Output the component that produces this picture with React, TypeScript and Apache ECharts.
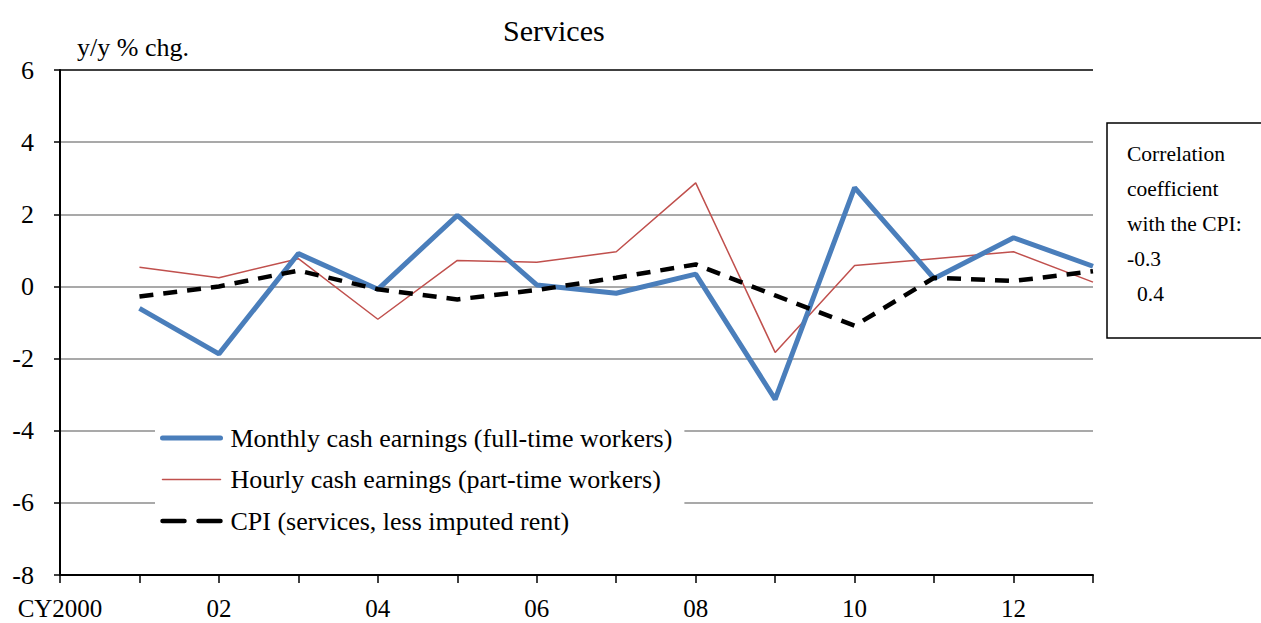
import React, { useEffect, useRef } from "react";
import * as echarts from "echarts";

const years = [2001, 2002, 2003, 2004, 2005, 2006, 2007, 2008, 2009, 2010, 2011, 2012, 2013];
const monthly = [-0.61, -1.87, 0.91, -0.08, 1.97, 0.04, -0.19, 0.34, -3.13, 2.74, 0.22, 1.35, 0.56];
const hourly = [0.53, 0.24, 0.77, -0.91, 0.72, 0.67, 0.96, 2.87, -1.83, 0.58, 0.77, 0.96, 0.12];
const cpi = [-0.28, 0.0, 0.44, -0.08, -0.36, -0.1, 0.24, 0.61, -0.25, -1.09, 0.24, 0.15, 0.42];
const seriesNames = [
  "Monthly cash earnings (full-time workers)",
  "Hourly cash earnings (part-time workers)",
  "CPI (services, less imputed rent)",
];
const corrLines = ["Correlation", "coefficient", "with the CPI:", "-0.3", "0.4"];
const corrIndent = [0, 0, 0, 0, 10];

const FONT = "'Liberation Serif', 'Times New Roman', serif";

export default function App() {
  const ref = useRef<HTMLDivElement>(null);
  useEffect(() => {
    if (!ref.current) return;
    const chart = echarts.init(ref.current, null, { renderer: "svg" });
    const pair = (arr: number[]) => years.map((y, i) => [y, arr[i]]);
    const gridColors = ["#000", "#8c8c8c", "#8c8c8c", "#8c8c8c", "#8c8c8c", "#8c8c8c", "#8c8c8c", "#000"];
    const styles = [
      { color: "#4a7ebb", width: 5, type: "solid" as any },
      { color: "#c0504d", width: 1.5, type: "solid" as any },
      { color: "#000", width: 4.5, type: [14, 10] as any },
    ];
    const legendTypes: any[] = ["solid", "solid", [22, 14]];
    chart.setOption({
      animation: false,
      backgroundColor: "#fff",
      textStyle: { fontFamily: FONT, color: "#000" },
      title: {
        text: "Services",
        left: 498,
        top: 10,
        textStyle: { fontFamily: FONT, fontSize: 30, fontWeight: "normal", color: "#000" },
      },
      grid: {
        left: 60,
        right: 168,
        top: 70,
        bottom: 48,
        containLabel: false,
        outerBoundsMode: "none",
      },
      xAxis: {
        type: "value",
        min: 2000,
        max: 2013,
        interval: 1,
        axisLine: { show: true, onZero: false, lineStyle: { color: "#000", width: 2 } },
        axisTick: { show: true, length: 8, lineStyle: { color: "#000", width: 1.5 } },
        splitLine: { show: false },
        axisLabel: {
          margin: 21,
          fontSize: 25,
          fontFamily: FONT,
          color: "#000",
          showMinLabel: true,
          showMaxLabel: true,
          formatter: (v: number) => {
            if (v === 2000) return "CY2000";
            if (v % 2 === 0) return String(v).slice(2);
            return "";
          },
        },
      },
      yAxis: {
        type: "value",
        min: -8,
        max: 6,
        interval: 2,
        axisLine: { show: true, lineStyle: { color: "#000", width: 2 } },
        axisTick: { show: true, length: 6, lineStyle: { color: "#000", width: 1.5 } },
        axisLabel: { margin: 26, fontSize: 26, fontFamily: FONT, color: "#000" },
        splitLine: { show: true, lineStyle: { color: gridColors, width: 1.5 } },
      },
      legend: {
        orient: "vertical",
        left: 155,
        top: 420,
        padding: [5, 12, 5, 5],
        itemGap: 15.5,
        itemWidth: 58,
        itemHeight: 26,
        backgroundColor: "#fff",
        itemStyle: { opacity: 0 },
        textStyle: { fontSize: 26, fontFamily: FONT, color: "#000", padding: [0, 0, 0, 5] },
        data: seriesNames.map((n, i) => ({
          name: n,
          lineStyle: { color: styles[i].color, width: styles[i].width, type: legendTypes[i], cap: "round" },
        })),
      },
      graphic: [
        {
          type: "text",
          left: 77,
          top: 34,
          style: { text: "y/y % chg.", font: `26px ${FONT}`, fill: "#000" },
        },
        {
          type: "rect",
          shape: { x: 1107, y: 123, width: 180, height: 215 },
          style: { fill: "#fff", stroke: "#000", lineWidth: 1.5 },
        },
        ...corrLines.map((t, i) => ({
          type: "text",
          x: 1127 + corrIndent[i],
          y: 143 + i * 35,
          style: { text: t, font: `21.5px ${FONT}`, fill: "#000" },
        })),
      ],
      series: [
        {
          name: seriesNames[0],
          type: "line",
          data: pair(monthly),
          symbol: "none",
          z: 3,
          lineStyle: styles[0],
          itemStyle: { color: styles[0].color },
        },
        {
          name: seriesNames[1],
          type: "line",
          data: pair(hourly),
          symbol: "none",
          z: 2,
          lineStyle: styles[1],
          itemStyle: { color: styles[1].color },
        },
        {
          name: seriesNames[2],
          type: "line",
          data: pair(cpi),
          symbol: "none",
          z: 4,
          lineStyle: styles[2],
          itemStyle: { color: styles[2].color },
        },
      ],
    });
    return () => chart.dispose();
  }, []);
  return (
    <div
      ref={ref}
      style={{ position: "fixed", left: 0, top: 0, width: 1261, height: 623 }}
    />
  );
}
